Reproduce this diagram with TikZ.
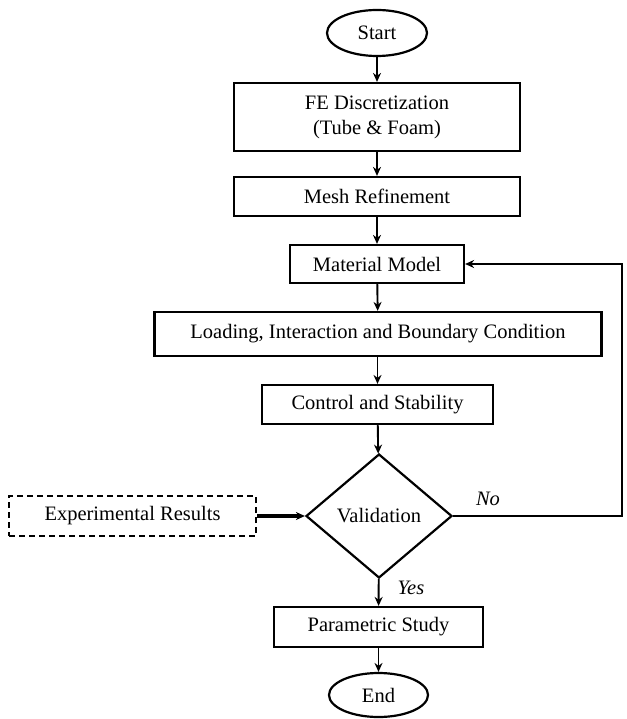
\documentclass[tikz,border=0pt]{standalone}
\usepackage{fontspec}
\setmainfont{Liberation Serif}
\usetikzlibrary{shapes.geometric,arrows.meta}
\tikzset{
  box/.style={draw, line width=2.2pt, rectangle, inner sep=0pt, align=center},
  term/.style={draw, line width=2.2pt, ellipse, inner sep=0pt},
  decision/.style={draw, line width=2.2pt, diamond, inner sep=0pt},
  flow/.style={line width=1.9pt, -{Stealth[length=9pt,width=8pt]}},
}

\begin{document}
\begin{tikzpicture}[x=1pt, y=-1pt, font=\fontsize{20.5}{25}\selectfont]
    \useasboundingbox (0,0) rectangle (626,719);

    % nodes of the chart
    \node [term, minimum width=100pt, minimum height=46pt] (start) at (377,33) {Start};
    \node [box, minimum width=286pt, minimum height=68pt] (fe) at (377,117) {FE Discretization\\(Tube \& Foam)};
    \node [box, minimum width=286pt, minimum height=39pt] (mesh) at (377,196.5) {Mesh Refinement};
    \node [box, minimum width=174pt, minimum height=38pt] (mat) at (377,264) {Material Model};
    \node [box, minimum width=447pt, minimum height=44pt] (load) at (378,334) {Loading, Interaction and Boundary Condition};
    \node [box, minimum width=231pt, minimum height=39pt] (ctrl) at (377.5,404.5) {Control and Stability};
    \node [decision, minimum width=146pt, minimum height=124pt] (valid) at (379,516) {Validation};
    \node [box, dash pattern=on 6pt off 4pt, minimum width=247pt, minimum height=40pt] (exp) at (132.5,516) {Experimental Results};
    \node [box, minimum width=209pt, minimum height=40pt] (param) at (378.5,627) {Parametric Study};
    \node [term, minimum width=99pt, minimum height=44pt] (end) at (378.5,695) {End};

    % coordinates to be reused
    \coordinate (back) at (622,516);

    % draw connectors
    \draw [flow] (start) -- (fe);
    \draw [flow] (fe) -- (mesh);
    \draw [flow] (mesh) -- (mat);
    \draw [flow] (mat) -- (load);
    \draw [flow] (load.south -| ctrl.north) -- (ctrl);
    \draw [flow] (ctrl) -- (valid);
    \draw [flow] (valid) -- (param);
    \draw [flow] (param) -- (end);
    \draw [flow, line width=3.2pt] (exp) -- (valid);
    \draw [flow] (valid.east) -- (back) |- (mat.east);

    % add labels
    \node [font=\fontsize{20.5}{25}\selectfont\itshape] (no) at (488,499) {No};
    \node [font=\fontsize{20.5}{25}\selectfont\itshape] (yes) at (411,588) {Yes};
\end{tikzpicture}
\end{document}
